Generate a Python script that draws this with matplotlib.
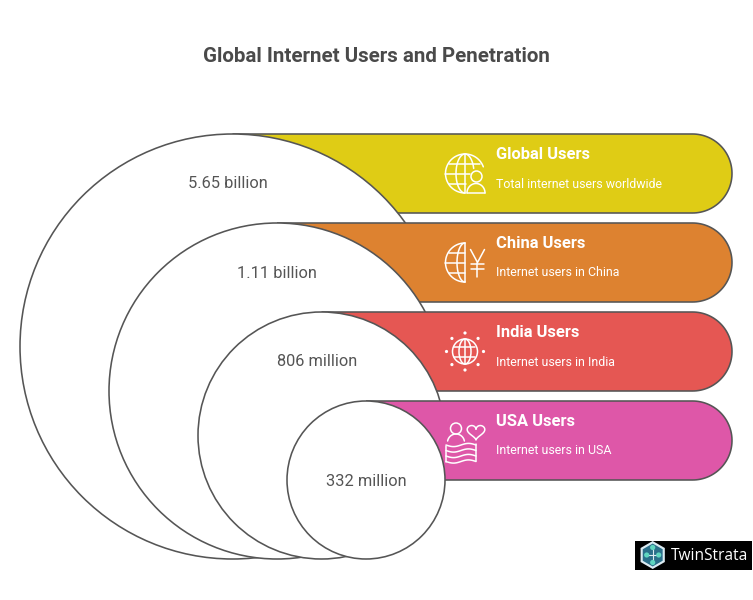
import numpy as np
import matplotlib
matplotlib.use('Agg')
import matplotlib.pyplot as plt
from matplotlib.patches import Circle, Arc, Ellipse, PathPatch, RegularPolygon, Rectangle
from matplotlib.path import Path

title = 'Global Internet Users and Penetration'
names = ['Global Users', 'China Users', 'India Users', 'USA Users']
notes = ['Total internet users worldwide', 'Internet users in China',
         'Internet users in India', 'Internet users in USA']
values = ['5.65 billion', '1.11 billion', '806 million', '332 million']
colors = ['#DFCC15', '#DD8230', '#E55753', '#DE57A8']

EDGE = '#555555'
TEXT = '#555555'
WHITE = '#FFFFFF'

plt.rcParams['font.family'] = ['Roboto', 'DejaVu Sans']

fig = plt.figure(figsize=(7.53, 6), dpi=100)
ax = fig.add_axes([0, 0, 1, 1])
ax.set_xlim(0, 753)
ax.set_ylim(600, 0)
ax.axis('off')


def bar_path(x0, top, right, h):
    # flat on the left, half circle on the right
    r = h / 2
    t = np.linspace(-np.pi / 2, np.pi / 2, 60)
    xs = np.concatenate([[x0], right - r + r * np.cos(t), [x0]])
    ys = np.concatenate([[top], top + r + r * np.sin(t), [top + h]])
    return Path(np.column_stack([xs, ys]), closed=False)


def line(xs, ys, lw=1.1, z=10):
    ax.plot(xs, ys, color=WHITE, lw=lw, solid_capstyle='round', zorder=z)


def arc(cx, cy, w, h, a1, a2, lw=1.1):
    # drawn as a plain line so the angles stay simple on the flipped y axis
    t = np.radians(np.linspace(a1, a2, 60))
    line(cx + w / 2 * np.cos(t), cy + h / 2 * np.sin(t), lw=lw)


def icon_global(cx, cy):
    r = 19.5
    arc(cx, cy, 2 * r, 2 * r, 90, 340)
    arc(cx, cy, 18, 2 * r, 90, 345)
    line([cx, cx], [cy - r, cy + r])
    line([cx - r + 4, cx + r - 4], [cy - 10, cy - 10])
    line([cx - r, cx + 5], [cy, cy])
    line([cx - r + 4, cx + 1], [cy + 10, cy + 10])
    ax.add_patch(Circle((cx + 11.5, cy + 3), 5.5, fc='none', ec=WHITE, lw=1.1, zorder=10))
    line([cx + 2, cx + 20], [cy + 19.5, cy + 19.5])
    arc(cx + 11, cy + 19.5, 18, 19, 180, 360)


def icon_china(cx, cy):
    r = 19.5
    arc(cx, cy, 2 * r, 2 * r, 90, 270)
    arc(cx, cy, 16, 2 * r, 90, 270)
    line([cx, cx], [cy - r, cy + r])
    line([cx - r + 4, cx], [cy - 10, cy - 10])
    line([cx - r, cx], [cy, cy])
    line([cx - r + 4, cx], [cy + 10, cy + 10])
    yx = cx + 12.5
    line([yx - 7, yx, yx + 7], [cy - 13, cy, cy - 13])
    line([yx, yx], [cy, cy + 14])
    line([yx - 6.5, yx + 6.5], [cy + 1, cy + 1])
    line([yx - 6.5, yx + 6.5], [cy + 6, cy + 6])


def icon_india(cx, cy):
    r = 12.5
    ax.add_patch(Circle((cx, cy), r, fc='none', ec=WHITE, lw=1.1, zorder=10))
    ax.add_patch(Ellipse((cx, cy), 12, 2 * r, fc='none', ec=WHITE, lw=1.1, zorder=10))
    line([cx, cx], [cy - r, cy + r])
    line([cx - r + 2, cx + r - 2], [cy - 5, cy - 5])
    line([cx - r + 2, cx + r - 2], [cy + 5, cy + 5])
    for a in np.arange(8) * np.pi / 4:
        ax.add_patch(Circle((cx + 18.5 * np.cos(a), cy + 18.5 * np.sin(a)), 1.6,
                            fc=WHITE, ec='none', zorder=10))


def icon_usa(cx, cy):
    # person
    ax.add_patch(Circle((cx - 9, cy - 12), 5.5, fc='none', ec=WHITE, lw=1.1, zorder=10))
    arc(cx - 9, cy + 2, 17, 17, 190, 350)
    # heart
    hx, hy = cx + 11, cy - 9
    t = np.linspace(0, 2 * np.pi, 80)
    line(hx + 0.55 * (16 * np.sin(t) ** 3),
         hy - 0.5 * (13 * np.cos(t) - 5 * np.cos(2 * t) - 2 * np.cos(3 * t) - np.cos(4 * t)))
    # waving flag
    xs = np.linspace(cx - 19, cx + 11, 30)
    for dy in [4.5, 10, 15.5, 21]:
        line(xs, cy + dy + 1.6 * np.sin((xs - xs[0]) / 30 * 2 * np.pi))
    line([xs[0], xs[0]], [cy + 5, cy + 21])
    line([xs[-1], xs[-1]], [cy + 3, cy + 20])


icons = [icon_global, icon_china, icon_india, icon_usa]

ax.text(376, 56, title, ha='center', va='center', fontsize=14.75, fontweight='bold', color='#4A4A4A')

# circles all sit on the same baseline, bars step down by 89 px
bottom = 559
left = 20
top = 134
step = 89
bar_h = 79
bar_right = 732
value_dx = [-4.5, 0, -4.5, 0]
value_y = [184, 273, 362, 481]
for i, (name, note, val, col) in enumerate(zip(names, notes, values, colors)):
    y = top + i * step
    x = left + i * step
    r = (bottom - y) / 2
    cx = x + r
    z = 2 * i + 1
    ax.add_patch(PathPatch(bar_path(cx, y, bar_right, bar_h), fc=col, ec='none', zorder=z))
    ax.add_patch(PathPatch(bar_path(cx, y, bar_right, bar_h), fc='none', ec=EDGE, lw=1.15, zorder=z))
    circ = Circle((cx, y + r), r, fc=WHITE, ec=EDGE, lw=1.15, zorder=z + 0.5)
    ax.add_patch(circ)
    if i < 3:
        # the right side of a circle stops where the next bar starts
        nt = y + step
        nx = x + step + (bottom - nt) / 2
        keep = Path([(0, 0), (753, 0), (753, nt), (nx, nt), (nx, 600), (0, 600), (0, 0)])
        circ.set_clip_path(keep, ax.transData)
    ax.text(cx + value_dx[i], value_y[i], val, ha='center', va='center', fontsize=11.8, color=TEXT, zorder=20)
    ax.text(496, y + 20.5, name, ha='left', va='center', fontsize=11.9, fontweight='bold', color=WHITE, zorder=20)
    ax.text(496, y + 50, note, ha='left', va='center', fontsize=8.9, color=WHITE, zorder=20)
    icons[i](465, y + 39.5)

# logo badge
ax.add_patch(Rectangle((635, 541), 117, 29, fc='black', ec='none', zorder=30))
ax.add_patch(RegularPolygon((652.7, 555), 6, radius=14, fc='#DCEBF2', ec='none', zorder=31))
ax.add_patch(RegularPolygon((652.7, 555), 6, radius=11.5, fc='#2A6F8A', ec='none', zorder=32))
for dx, dy in [(-6, 0), (6, 0), (0, -7.5), (0, 7.5)]:
    ax.plot([652.7, 652.7 + dx], [555, 555 + dy], color='#DCEBF2', lw=0.8, zorder=33)
    ax.add_patch(Circle((652.7 + dx, 555 + dy), 2.6, fc='#5FD6C0', ec='none', zorder=34))
ax.text(671, 555.5, 'TwinStrata', ha='left', va='center', fontsize=11.2, color=WHITE,
        family=['Open Sans', 'DejaVu Sans'], zorder=31)

fig.savefig('out.png', dpi=100)
